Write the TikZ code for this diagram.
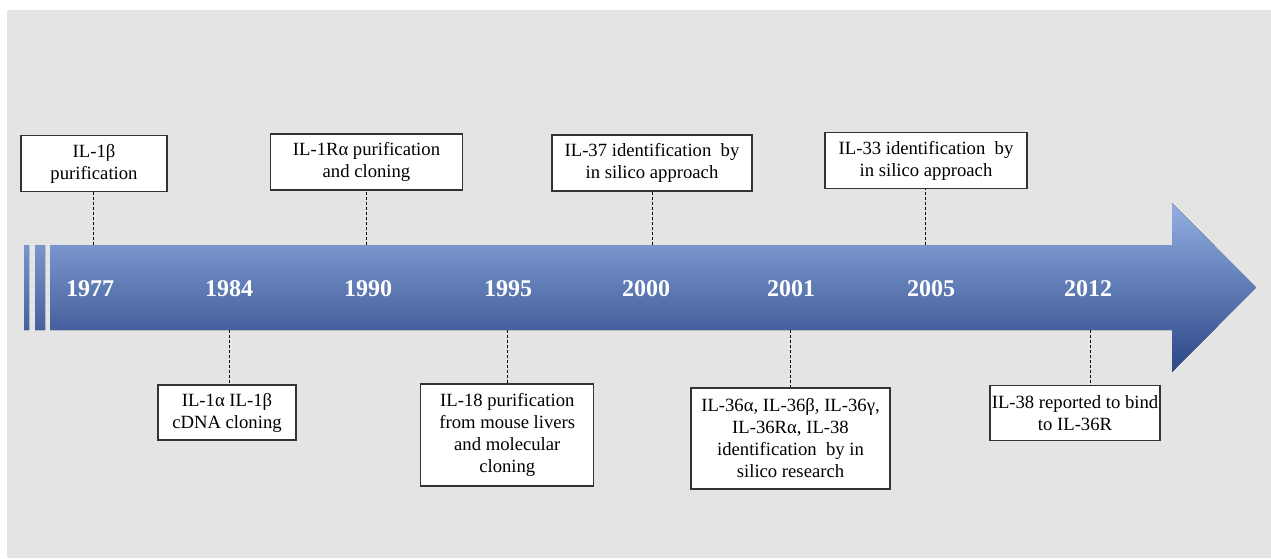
\documentclass[tikz,border=0pt]{standalone}
\usepackage{fontspec}
\setmainfont{Liberation Serif}
\usetikzlibrary{positioning, calc}
\usepackage{xcolor}
\definecolor{bggray}{HTML}{E4E4E4}
\definecolor{arrowtop}{HTML}{93AFE3}
\definecolor{arrowmid}{HTML}{4F77C8}
\definecolor{arrowbot}{HTML}{2A4786}

\tikzset{
  event/.style={draw=black!80, line width=0.8pt, fill=white, align=center, inner sep=0pt, font=\fontsize{14}{16.5}\selectfont},
  year/.style={text=white, font=\fontsize{18}{20}\selectfont\bfseries},
  tick/.style={dash pattern=on 2.25pt off 1.5pt, line width=0.75pt}
}

\begin{document}
\begin{tikzpicture}[x=0.75pt, y=-0.75pt]
  % Background
  \useasboundingbox (0,0) rectangle (1271,558);
  \fill[white] (0,0) rectangle (1271,558);
  \fill[bggray] (7,10) rectangle (1271,558);

  % Timeline arrow
  \begin{scope}
    \clip (24,245) rectangle (29,330) (35,245) rectangle (45,330)
      (50,245) -- (1172,245) -- (1172,203) -- (1256,287.5) -- (1172,372) -- (1172,330) -- (50,330) -- cycle;
    \fill[top color=arrowtop, middle color=arrowmid, bottom color=arrowbot] (20,203) rectangle (1260,372);
  \end{scope}

  % Years
  \node[year] (y1977) at (90,289) {1977};
  \node[year] (y1984) at (229,289) {1984};
  \node[year] (y1990) at (368,289) {1990};
  \node[year] (y1995) at (508,289) {1995};
  \node[year] (y2000) at (646,289) {2000};
  \node[year] (y2001) at (791,289) {2001};
  \node[year] (y2005) at (931,289) {2005};
  \node[year] (y2012) at (1088,289) {2012};

  % Tick points on the arrow
  \coordinate (t1977) at (93,245);
  \coordinate (t1984) at (229.5,330);
  \coordinate (t1990) at (366.5,245);
  \coordinate (t1995) at (507.5,330);
  \coordinate (t2000) at (652,245);
  \coordinate (t2001) at (790,330);
  \coordinate (t2005) at (925.5,245);
  \coordinate (t2012) at (1090,330);

  % Events above
  \node[event, minimum width=109.5pt, minimum height=41.7pt] (e1977) at (94,163.5) {IL-1β\\purification};
  \node[event, minimum width=143.7pt, minimum height=42pt] (e1990) at (366.5,162) {IL-1Rα purification\\and cloning};
  \node[event, minimum width=150pt, minimum height=42pt] (e2000) at (652,163) {IL-37 identification\ \ by\\in silico approach};
  \node[event, minimum width=151.5pt, minimum height=42pt] (e2005) at (926,160.7) {IL-33 identification\ \ by\\in silico approach};

  % Events below
  \node[event, minimum width=103.5pt, minimum height=41.25pt] (e1984) at (227,412.5) {IL-1α IL-1β\\cDNA cloning};
  \node[event, minimum width=129.75pt, minimum height=76.5pt] (e1995) at (507.3,435) {IL-18 purification\\from mouse livers\\and molecular\\cloning};
  \node[event, minimum width=149.25pt, minimum height=75.75pt] (e2001) at (790.5,438.5) {IL-36α, IL-36β, IL-36γ,\\IL-36Rα, IL-38\\identification\ \ by in\\silico research};
  \node[event, minimum width=127.5pt, minimum height=41.25pt] (e2012) at (1075,413.4) {IL-38 reported to bind\\to IL-36R};

  % Dashed ticks
  \draw[tick] (t1977) -- (t1977 |- e1977.south);
  \draw[tick] (t1990) -- (t1990 |- e1990.south);
  \draw[tick] (t2000) -- (t2000 |- e2000.south);
  \draw[tick] (t2005) -- (t2005 |- e2005.south);
  \draw[tick] (t1984) -- (t1984 |- e1984.north);
  \draw[tick] (t1995) -- (t1995 |- e1995.north);
  \draw[tick] (t2001) -- (t2001 |- e2001.north);
  \draw[tick] (t2012) -- (t2012 |- e2012.north);
\end{tikzpicture}
\end{document}
